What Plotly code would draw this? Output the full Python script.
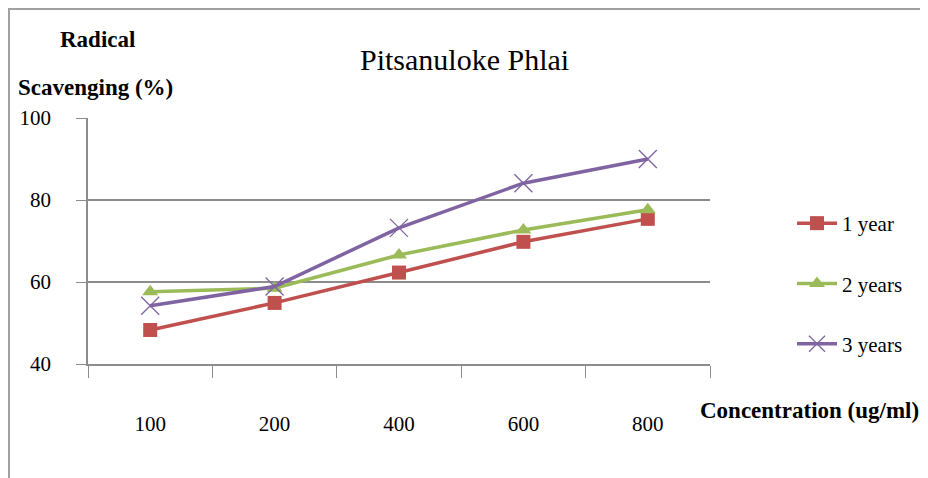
import plotly.graph_objects as go

categories = ["100", "200", "400", "600", "800"]
year1 = [48.3, 54.9, 62.3, 69.8, 75.4]
year2 = [57.6, 58.5, 66.6, 72.7, 77.6]
year3 = [54.2, 58.9, 73.2, 84.1, 90.0]
series_names = ["1 year", "2 years", "3 years"]
y_ticks = [40, 60, 80, 100]

serif = "'Liberation Serif', Tinos, 'Times New Roman', Times, 'DejaVu Serif', serif"
colors = ["#C0504D", "#9BBB59", "#8064A2"]
symbols = ["square", "triangle-up", "x-thin"]
sizes = [14, 14, 18]

# page body has an 8px margin; figure is sized/positioned to compensate
W, H = 920, 470
L, T, PW, PH = 80, 110, 622, 246


def px(xr):
    return (xr - 88) / PW


def py(yr):
    return (364 - yr) / PH


fig = go.Figure()
for i, (name, vals) in enumerate(zip(series_names, [year1, year2, year3])):
    marker = dict(symbol=symbols[i], size=sizes[i], color=colors[i])
    if symbols[i] == "x-thin":
        marker["line"] = dict(color=colors[i], width=1.3)
    fig.add_trace(go.Scatter(
        x=categories, y=vals, name=name, mode="lines+markers",
        line=dict(color=colors[i], width=3.5), marker=marker,
        legendgroup=name,
    ))

fig.update_layout(
    width=W, height=H,
    margin=dict(l=L, r=W - L - PW, t=T, b=H - T - PH),
    paper_bgcolor="white", plot_bgcolor="white",
    font=dict(family=serif, color="black", size=20),
    showlegend=True,
    legend=dict(x=px(792), xanchor="left", y=py(203), yanchor="top",
                font=dict(family=serif, size=21, color="black"),
                tracegroupgap=30, itemwidth=40, bgcolor="rgba(0,0,0,0)"),
    xaxis=dict(type="category", tickson="boundaries", showgrid=False,
               showline=True, linecolor="#8c8c8c", linewidth=1.5,
               ticks="outside", ticklen=12, tickcolor="#8c8c8c",
               ticklabelstandoff=40,
               tickfont=dict(family=serif, size=21, color="black"),
               range=[-0.5, 4.5]),
    yaxis=dict(range=[40, 100], tickvals=y_ticks,
               ticktext=[f"{v}\u2003" for v in y_ticks],
               showgrid=True,
               gridcolor="#8c8c8c", gridwidth=1.5, zeroline=False,
               showline=True, linecolor="#8c8c8c", linewidth=1.5,
               ticks="outside", ticklen=10, tickcolor="#8c8c8c",
               tickfont=dict(family=serif, size=21, color="black")),
    shapes=[dict(type="rect", xref="paper", yref="paper",
                 x0=px(9), x1=1.6, y0=-1, y1=py(9),
                 line=dict(color="#a0a0a0", width=2))],
    annotations=[
        dict(text="Pitsanuloke Phlai", xref="paper", yref="paper",
             x=px(464), y=py(60), xanchor="center", yanchor="middle",
             showarrow=False,
             font=dict(family=serif, size=30, color="black")),
        dict(text="<b>Radical</b>", xref="paper", yref="paper",
             x=px(58), y=py(40), xanchor="left",
             yanchor="middle", showarrow=False,
             font=dict(family=serif, size=23, color="black")),
        dict(text="<b>Scavenging (%)</b>", xref="paper", yref="paper",
             x=px(16), y=py(88), xanchor="left",
             yanchor="middle", showarrow=False,
             font=dict(family=serif, size=23, color="black")),
        dict(text="<b>Concentration (ug/ml)</b>", xref="paper", yref="paper",
             x=px(698), y=py(410), xanchor="left",
             yanchor="middle", showarrow=False,
             font=dict(family=serif, size=23, color="black")),
    ],
)

fig.write_html("out.html")
